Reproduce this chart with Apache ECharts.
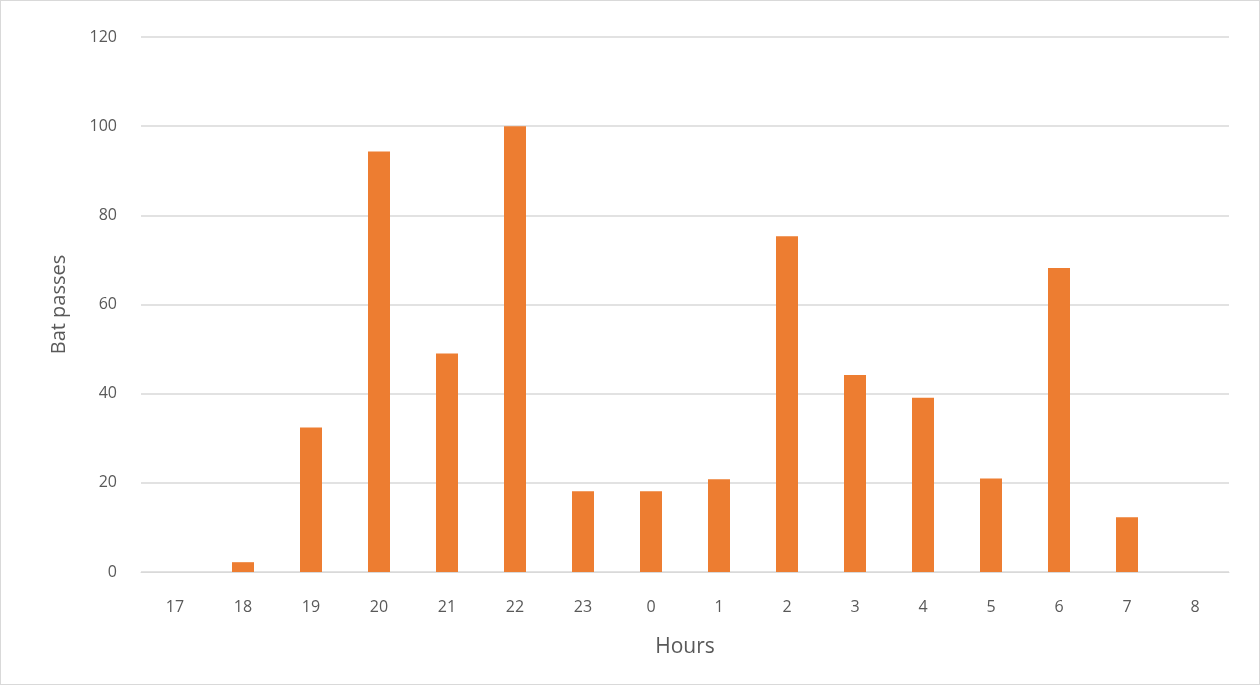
<!DOCTYPE html>
<html>
<head>
<meta charset="utf-8">
<script src="https://cdn.jsdelivr.net/npm/echarts@6/dist/echarts.min.js"></script>
<style>
  html, body { margin: 0; padding: 0; background: #fff; }
  #chart { width: 1260px; height: 685px; box-sizing: border-box; border: 1px solid #d9d9d9; }
</style>
</head>
<body>
<div id="chart"></div>
<script>
// hours of the night and bat passes counted in each
const hours = ['17', '18', '19', '20', '21', '22', '23', '0', '1', '2', '3', '4', '5', '6', '7', '8']
const batPasses = [0, 2.2, 32.4, 94.3, 49, 100, 18.1, 18.1, 20.8, 75.3, 44.2, 39.1, 21, 68.2, 12.3, 0]
const yTicks = { min: 0, max: 120, interval: 20 }

const chart = echarts.init(document.getElementById('chart'))
const font = '"Open Sans", sans-serif'

chart.setOption({
  animation: false,
  grid: { left: 140, right: 30, top: 36, bottom: 112 },
  xAxis: {
    type: 'category',
    data: hours,
    name: 'Hours',
    nameLocation: 'middle',
    nameGap: 65,
    nameTextStyle: { fontSize: 21, color: '#595959', fontFamily: font },
    axisLine: { lineStyle: { color: '#d9d9d9' } },
    axisTick: { show: false },
    axisLabel: { fontSize: 16, color: '#595959', margin: 27, fontFamily: font },
    splitLine: { show: false }
  },
  yAxis: {
    type: 'value',
    min: yTicks.min,
    max: yTicks.max,
    interval: yTicks.interval,
    name: 'Bat passes',
    nameLocation: 'middle',
    nameGap: 72,
    nameTextStyle: { fontSize: 20, color: '#595959', fontFamily: font },
    axisLine: { show: false },
    axisTick: { show: false },
    axisLabel: { fontSize: 16, color: '#595959', margin: 24, fontFamily: font },
    splitLine: { lineStyle: { color: '#d9d9d9', width: 1.5 } }
  },
  series: [{
    type: 'bar',
    data: batPasses,
    barWidth: 22,
    itemStyle: { color: '#ed7d31' }
  }]
})
</script>
</body>
</html>
